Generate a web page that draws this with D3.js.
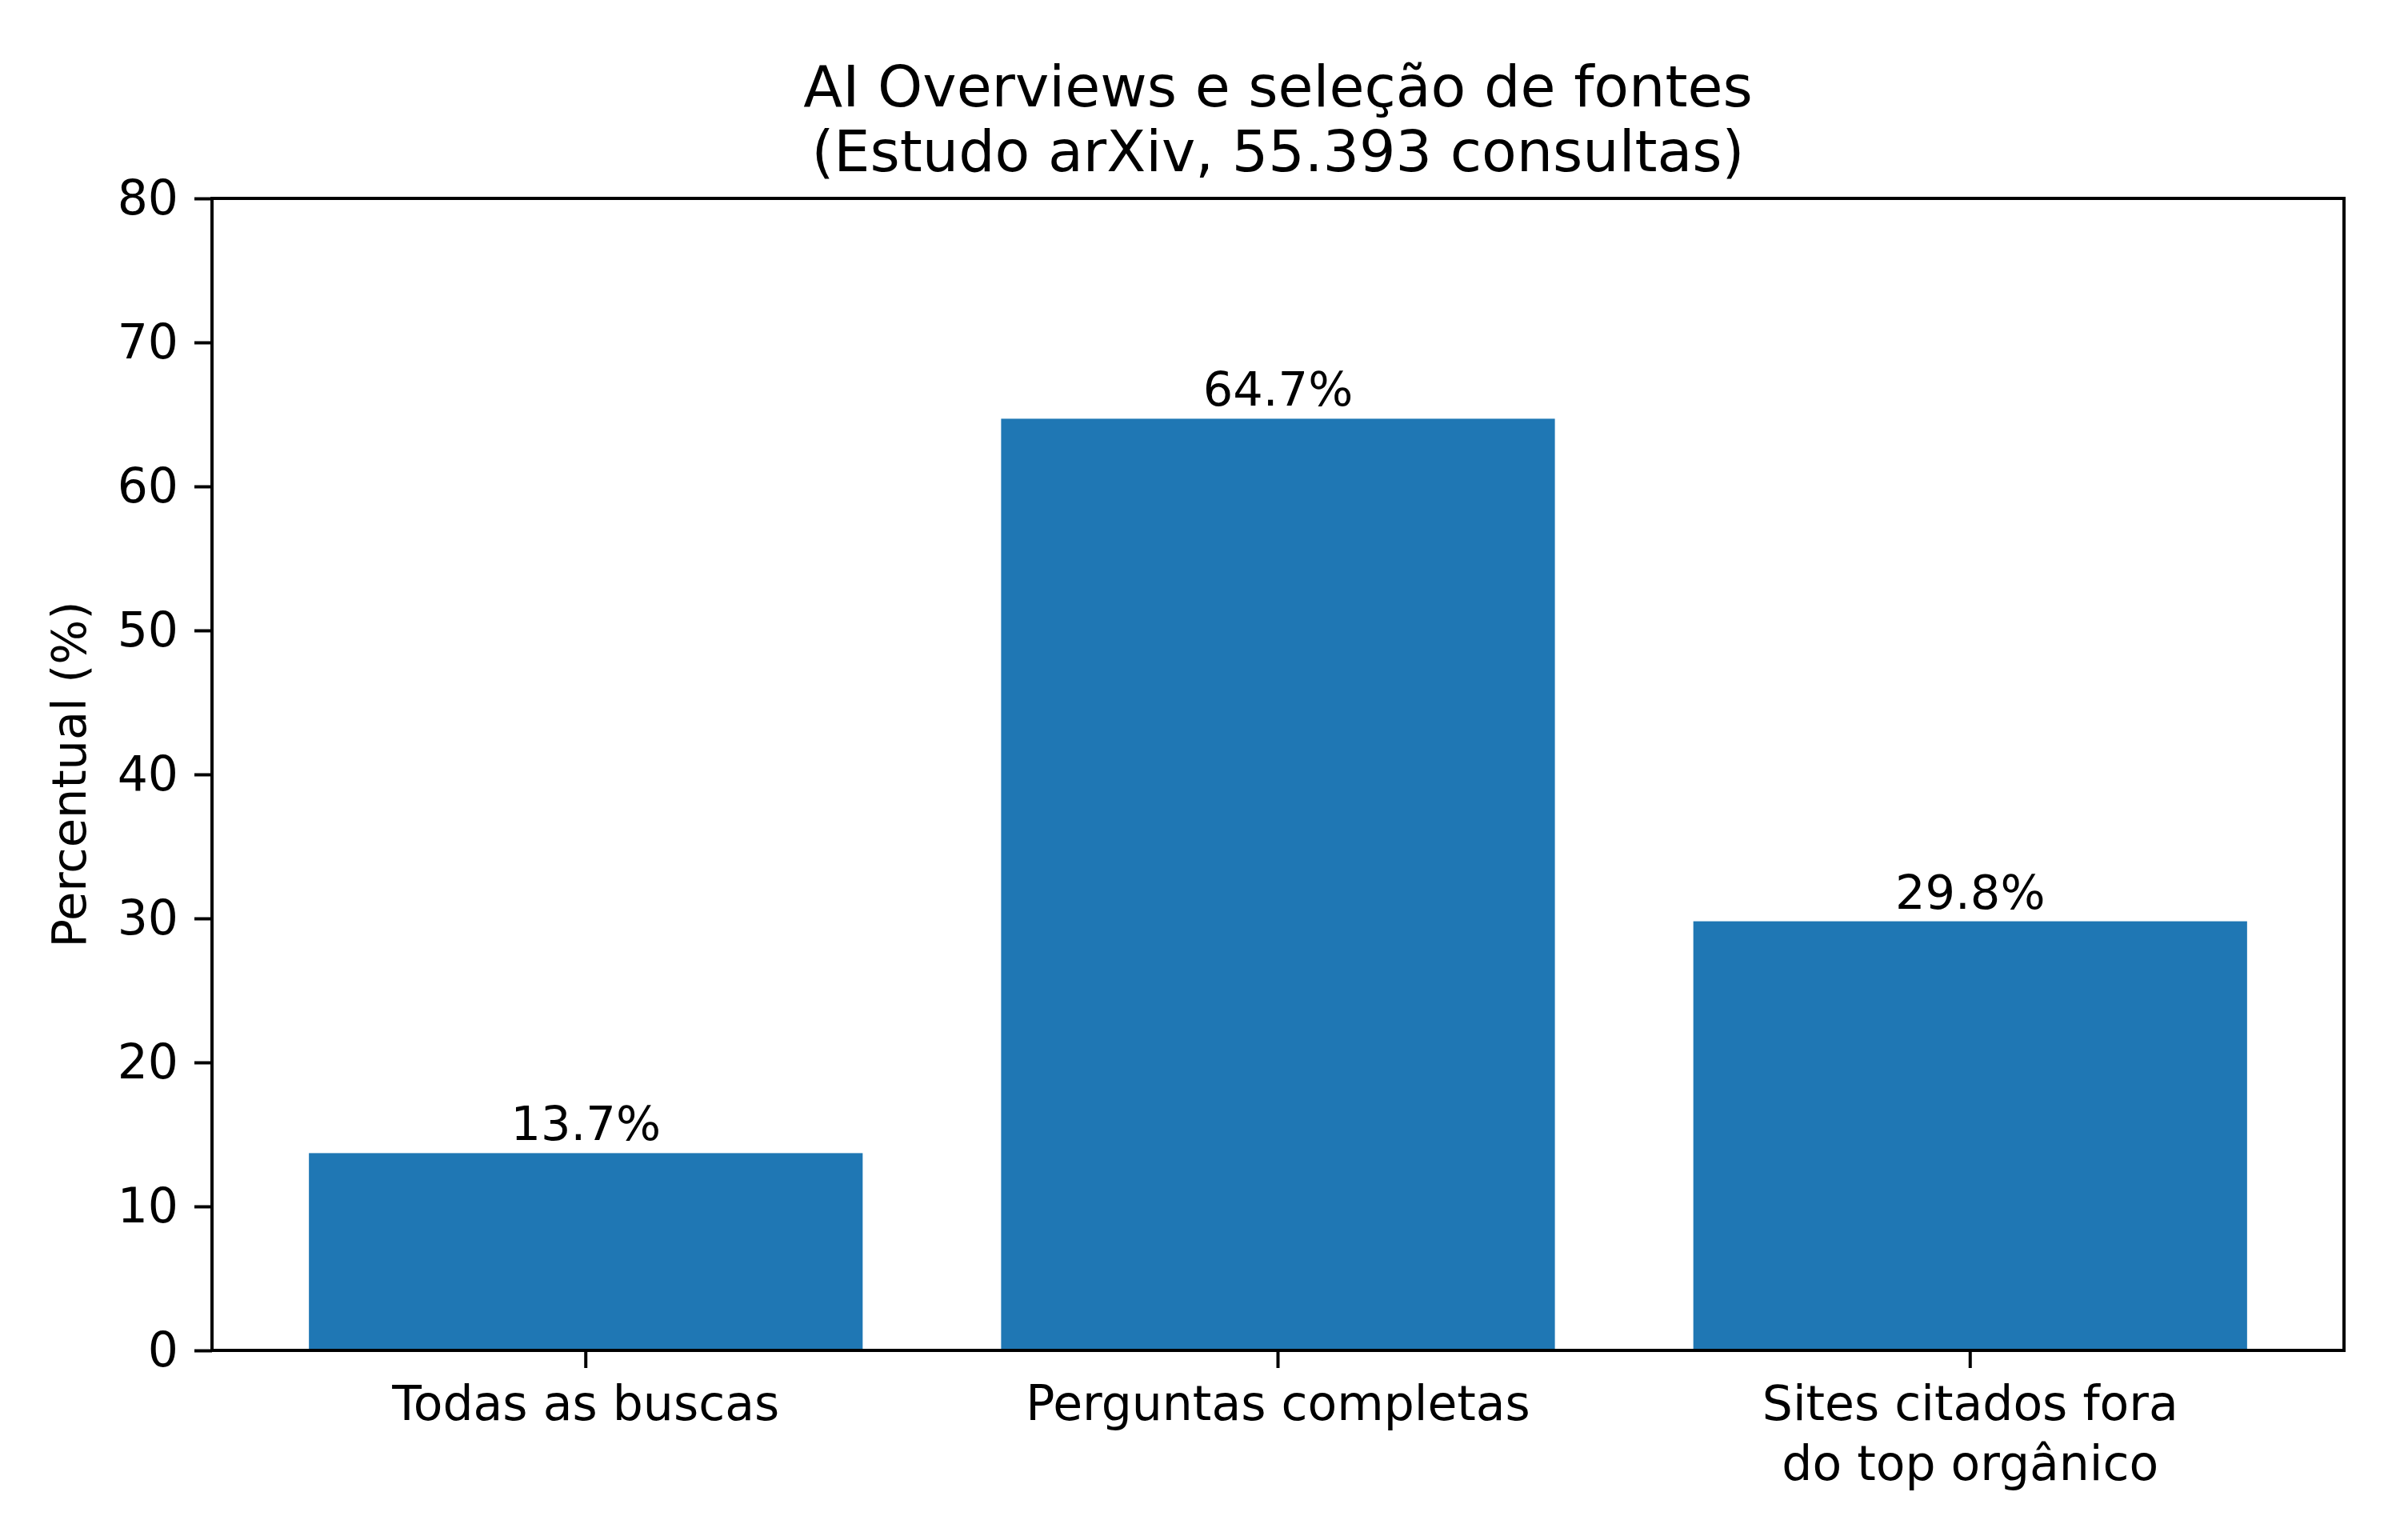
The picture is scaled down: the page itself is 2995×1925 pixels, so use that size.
<!DOCTYPE html>
<html>
<head>
<meta charset="utf-8">
<script src="https://d3js.org/d3.v7.min.js"></script>
<style>
  body { margin: 0; background: #fff; }
  text { font-family: "DejaVu Sans", sans-serif; fill: #000; }
</style>
</head>
<body>
<div id="chart"></div>
<script>
// Data
var categories = ["Todas as buscas", "Perguntas completas", "Sites citados fora\ndo top orgânico"];
var percentValues = [13.7, 64.7, 29.8];
var yTicks = [0, 10, 20, 30, 40, 50, 60, 70, 80];
var titleLines = ["AI Overviews e seleção de fontes", "(Estudo arXiv, 55.393 consultas)"];

var svgWidth = 2995;
var svgHeight = 1925;

var margin = {
  top: 248,
  right: 65,
  bottom: 237,
  left: 265
};

var width = svgWidth - margin.left - margin.right;
var height = svgHeight - margin.top - margin.bottom;

var svg = d3.select("#chart")
  .append("svg")
  .attr("width", svgWidth)
  .attr("height", svgHeight);

svg.append("rect")
  .attr("width", svgWidth)
  .attr("height", svgHeight)
  .attr("fill", "#fff");

var chartGroup = svg.append("g")
  .attr("transform", `translate(${margin.left}, ${margin.top})`);

// Scales
var xBandScale = d3.scaleBand()
  .domain(categories)
  .range([0, width])
  .paddingInner(0.2)
  .paddingOuter(0.14);

var yLinearScale = d3.scaleLinear()
  .domain([0, 80])
  .range([height, 0]);

// Bars
chartGroup.selectAll("rect.bar")
  .data(percentValues)
  .enter()
  .append("rect")
  .attr("class", "bar")
  .attr("x", (d, i) => xBandScale(categories[i]))
  .attr("y", d => yLinearScale(d))
  .attr("width", xBandScale.bandwidth())
  .attr("height", d => height - yLinearScale(d))
  .attr("fill", "#1f77b4");

// Value labels
chartGroup.selectAll("text.valueLabel")
  .data(percentValues)
  .enter()
  .append("text")
  .attr("class", "valueLabel")
  .attr("x", (d, i) => xBandScale(categories[i]) + xBandScale.bandwidth() / 2)
  .attr("y", d => yLinearScale(d) - 16)
  .attr("text-anchor", "middle")
  .attr("font-size", "59px")
  .text(d => d.toFixed(1) + "%");

// Axes
var leftAxis = d3.axisLeft(yLinearScale)
  .tickValues(yTicks)
  .tickSize(22)
  .tickPadding(20);

var bottomAxis = d3.axisBottom(xBandScale)
  .tickSize(22)
  .tickPadding(20)
  .tickFormat("");

var yAxisGroup = chartGroup.append("g")
  .call(leftAxis);

var xAxisGroup = chartGroup.append("g")
  .attr("transform", `translate(0, ${height})`)
  .call(bottomAxis);

[yAxisGroup, xAxisGroup].forEach(g => {
  g.select(".domain").remove();
  g.selectAll(".tick line").attr("stroke", "#000").attr("stroke-width", 4);
  g.selectAll(".tick text")
    .attr("font-family", "DejaVu Sans")
    .attr("font-size", "60px")
    .attr("fill", "#000");
});

// Multi-line category labels
xAxisGroup.selectAll(".tick").each(function(d) {
  var lines = d.split("\n");
  var t = d3.select(this).append("text")
    .attr("text-anchor", "middle")
    .attr("font-size", "60px")
    .attr("fill", "#000");
  lines.forEach((line, k) => {
    t.append("tspan")
      .attr("x", 0)
      .attr("y", 87 + k * 75)
      .text(line);
  });
});

// Frame (all four spines)
chartGroup.append("rect")
  .attr("x", 0)
  .attr("y", 0)
  .attr("width", width)
  .attr("height", height)
  .attr("fill", "none")
  .attr("stroke", "#000")
  .attr("stroke-width", 4);

// Y axis label
chartGroup.append("text")
  .attr("transform", "rotate(-90)")
  .attr("x", 0 - (height / 2))
  .attr("y", 107 - margin.left)
  .attr("text-anchor", "middle")
  .attr("font-size", "59px")
  .text("Percentual (%)");

// Title
svg.append("g")
  .selectAll("text")
  .data(titleLines)
  .enter()
  .append("text")
  .attr("x", margin.left + width / 2)
  .attr("y", (d, i) => 133 + i * 81)
  .attr("text-anchor", "middle")
  .attr("font-size", "71.5px")
  .text(d => d);
</script>
</body>
</html>
